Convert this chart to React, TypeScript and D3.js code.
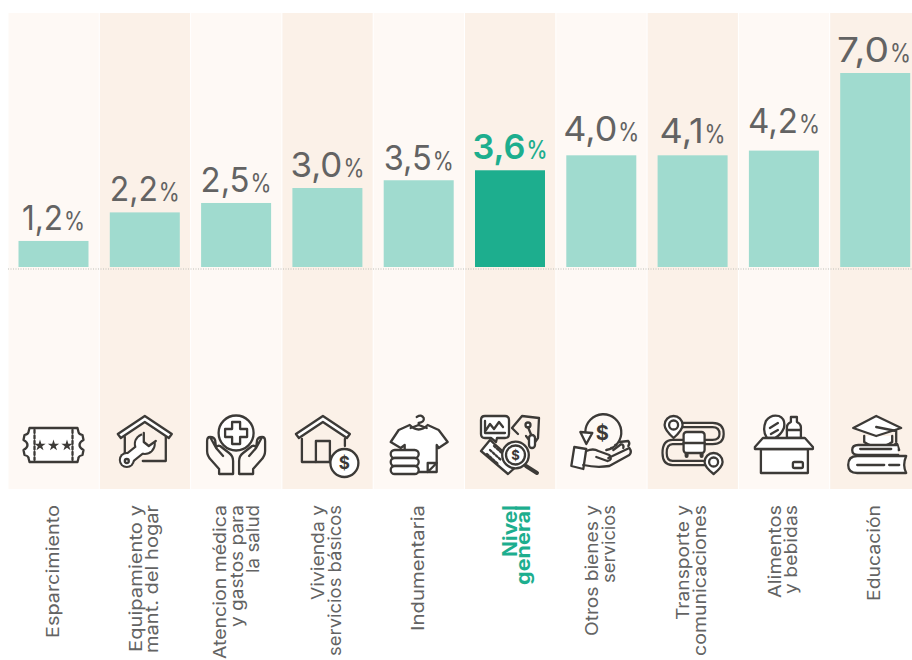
import React from "react";
import * as d3 from "d3";

const categories = ["Esparcimiento","Equipamiento y mant. del hogar","Atencion médica y gastos para la salud","Vivienda y servicios básicos","Indumentaria","Nivel general","Otros bienes y servicios","Transporte y comunicaciones","Alimentos y bebidas","Educación"];
const categoryLines = [["Esparcimiento"],["Equipamiento y","mant. del hogar"],["Atencion médica","y gastos para","la salud"],["Vivienda y","servicios básicos"],["Indumentaria"],["Nivel","general"],["Otros bienes y","servicios"],["Transporte y","comunicaciones"],["Alimentos","y bebidas"],["Educación"]];
const valueLabels = ["1,2","2,2","2,5","3,0","3,5","3,6","4,0","4,1","4,2","7,0"];
// heights as drawn in the picture (the source's bars are not strictly proportional to their labels)
const drawnValues = [0.94,1.97,2.31,2.85,3.13,3.49,4.03,4.03,4.2,7.0];
const highlighted = "Nivel general";

const W = 912, H = 660;
const INK = "#3c3a37";
const BG1 = "#fef9f5", BG2 = "#fbf1e8";
const x = d3.scaleBand<string>().domain(categories).range([8.5, 921.5]).paddingInner(0).paddingOuter(0);
const y = d3.scaleLinear().domain([0, 7]).range([267, 73]);
const star = d3.symbol().type(d3.symbolStar).size(40)() as string;

// text fitting: the reference's face is wider than any installed one
const lineWidths = [[133],[147,148],[154,122,68],[95,151],[126],[52,80],[131,78],[115,151],[93,89],[96]];
const valueWidths = [63,70,71,74,70,75,76,66,72,74];
const labelGap = [10.5,11.5,11,11,10.5,11,14.5,12.5,18,11];
const LINE = 16.5, LINE_HI = 13.5, PCT = 21;

const Ic = ({ children }: any) => (
  <g fill="#fff" stroke={INK} strokeWidth={2.3} strokeLinejoin="round" strokeLinecap="round">{children}</g>
);
const Roof = () => (<path d="M-27,-11 L0,-29 L27,-11 L24,-7 L0,-23 L-24,-7 L-27,-11Z" />);

const icons = [
  () => (<Ic>
    <path d="M-24,-17 H24 L25,-13 Q25,-11 29,-10 L30,-5 Q26,-3 26,0 Q26,3 30,5 L29,10 Q25,11 25,13 L24,17 H-24 L-25,13 Q-25,11 -29,10 L-30,5 Q-26,3 -26,0 Q-26,-3 -30,-5 L-29,-10 Q-25,-11 -25,-13Z" />
    <path d="M-19,-15 V15 M19,-15 V15" strokeDasharray="3 2.5" fill="none" />
    {[-13.5,0,13.5].map(d => <path key={d} d={star} transform={`translate(${d},0.5)`} fill={INK} stroke="none" />)}
  </Ic>),
  () => (<Ic>
    <path d="M-20,-8 V8 M21,-8 V16 H-2" fill="none" />
    <Roof />
    <path d="M-18,15 L2,-1" stroke={INK} strokeWidth={12} fill="none" />
    <circle cx={-18} cy={15} r={8} fill={INK} stroke="none" />
    <circle cx={0} cy={-1} r={11} fill={INK} stroke="none" />
    <path d="M-18,15 L2,-1" stroke="#fff" strokeWidth={8} fill="none" />
    <circle cx={-18} cy={15} r={6} stroke="none" />
    <circle cx={0} cy={-1} r={9} stroke="none" />
    <path d="M-3,-12 L-1,-3 L4,1 L12,-5 L13,-12 L8,-16Z" fill={BG2} stroke="none" />
    <path d="M-1,-12 L-1,-3 L4,1 L11,-4" fill="none" />
    <circle cx={-18} cy={16} r={2} fill="none" />
  </Ic>),
  () => (<Ic>
    <circle cx={0} cy={-12} r={17.5} />
    <path d="M-4,-23 H4 V-16 H11 V-8 H4 V-1 H-4 V-8 H-11 V-16 H-4Z" />
    {[1,-1].map(s => <g key={s} transform={`scale(${s},1)`}>
      <path d="M-26,-8 Q-29,-8 -29,-4 V6 Q-29,11 -25,15 L-17,24 V29 H-3 V16 Q-3,11 -7,8 L-16,1 Q-19,0 -20,3 L-13,11 M-20,3 L-21,-5 Q-22,-8 -26,-8Z" fill="none" />
    </g>)}
  </Ic>),
  () => (<Ic>
    <g transform="translate(-4.5,0)">
      <path d="M-21,-6 V17 H10 M22,-6 V1" fill="none" />
      <Roof />
      <path d="M-7,17 V-4 H7 V17" fill="none" />
    </g>
    <circle cx={17} cy={18} r={14} />
    <text x={17} y={24} textAnchor="middle" fontFamily="Inter" fontWeight={700} fontSize={17} fill={INK} stroke="none">$</text>
  </Ic>),
  () => (<Ic>
    <path d="M0,-20 V-22 Q6,-23 5,-27 Q3,-31 -2,-28 M-20,-15 L-9,-20 Q0,-11 9,-20 L20,-15 L29,-3 L20,3 L18,0 V27 H-14 V0 L-18,3 L-28,-3Z" />
    <path d="M-8,-17 L0,-20 L8,-17" fill="none" />
    <path d="M9,27 L18,18 H9 V27" fill="#fff" />
    <rect x={-28} y={5} width={28} height={8} rx={4} />
    <rect x={-28} y={13} width={28} height={8} rx={4} />
    <rect x={-28} y={21} width={28} height={8} rx={4} />
  </Ic>),
  () => (<Ic>
    <path d="M-25,-29 H-5 Q-1,-29 -1,-25 V-11 Q-1,-7 -5,-7 H-13 L-14,-3 L-19,-7 H-25 Q-29,-7 -29,-11 V-25 Q-29,-29 -25,-29Z" />
    <path d="M-25,-24 V-12 H-5 M-24,-15 L-20,-21 L-16,-16 L-11,-23 L-7,-18" fill="none" />
    <path d="M2,-17 L12,-29 L29,-27 L28,-7 L23,0 L16,-9 M2,-17 L8,-11" fill="none" />
    <circle cx={18} cy={-20} r={2.5} />
    <path d="M18,-18 L22,-8" fill="none" />
    <rect x={19} y={-10} width={6} height={13} rx={3} />
    <path d="M-29,6 L-20,-5 L8,20 L-2,29 Z" />
    <path d="M-20,5 L-9,15 M-23,9 L-12,19 M-16,1 L-6,10" fill="none" strokeDasharray="2 2" />
    <path d="M16,21 L27,28" strokeWidth={4} fill="none" />
    <circle cx={5.5} cy={10} r={13.3} />
    <circle cx={5.5} cy={10} r={9.5} />
    <text x={5.5} y={15} textAnchor="middle" fontFamily="Inter" fontWeight={700} fontSize={13} fill={INK} stroke="none">$</text>
  </Ic>),
  () => (<Ic>
    <path d="M-16,-13 A18,18 0 1 1 5,5" fill="none" />
    <path d="M10,3 h1 M14,0 h1" fill="none" />
    <path d="M-21,-13 L-9,-12 L-15,-1 Z" />
    <text x={1} y={-5} textAnchor="middle" fontFamily="Inter" fontWeight={700} fontSize={20} fill={INK} stroke="none">$</text>
    <path d="M-15,4 L-27,2 L-30,21 L-18,24 Z" />
    <path d="M-15,6 Q-8,3 -3,6 L8,10 Q12,15 6,16 L-5,12 M7,13 L28,3 Q31,7 28,10 L8,21 Q-5,23 -18,20" fill="none" />
    <path d="M12,5 L20,-1 Q23,0 22,3 M18,-3 L27,-4 Q29,-2 27,1" fill="none" />
  </Ic>),
  () => (<Ic>
    <g fill="none">
      <path d="M-11,-20 H20 Q29,-20 29,-11 Q29,-3 20,-3 H-20 Q-28,-3 -28,8 Q-28,18 -20,18 H13" strokeWidth={6.4} />
      <path d="M-11,-20 H20 Q29,-20 29,-11 Q29,-3 20,-3 H-20 Q-28,-3 -28,8 Q-28,18 -20,18 H13" stroke={BG2} strokeWidth={2} />
    </g>
    <path d="M-28,-20 A9,9 0 1 1 -10,-20 Q-10,-15 -19,-7 Q-28,-15 -28,-20Z" />
    <circle cx={-19} cy={-20} r={4.5} />
    <rect x={-9} y={-13} width={21} height={21} rx={3} />
    <path d="M-9,-2 H12 M-2,-2 H4" fill="none" />
    <path d="M-6,9 V11 M9,9 V11" fill="none" strokeWidth={4} />
    <path d="M12,17 A9,9 0 1 1 30,17 Q30,22 21,29 Q12,22 12,17Z" />
    <circle cx={21} cy={17} r={4.5} />
  </Ic>),
  () => (<Ic>
    <path d="M-17,-7 Q-22,-14 -18,-24 Q-13,-31 -5,-29 Q2,-26 0,-17 Q-3,-10 -9,-7Z" />
    <path d="M-14,-17 L-6,-22 M-13,-11 L-6,-15" fill="none" />
    <path d="M3,-7 V-18 Q3,-21 7,-23 V-28 H13 V-23 Q17,-21 17,-18 V-7Z" />
    <path d="M3,-15 H17" fill="none" />
    <path d="M-23,4 V28 H24 V4 Z" />
    <path d="M-21,-7 H21 L29,2 V4 H-29 V2Z" />
    <rect x={9} y={17} width={10} height={6} rx={1.5} />
  </Ic>),
  () => (<Ic>
    <path d="M-11,-9 V-3 Q3,7 17,-3 V-9" />
    <path d="M1,-29 L26,-17 L1,-9 L-22,-17Z" />
    <path d="M1,-18 L21,-14 V-3" fill="none" />
    <path d="M20,-1 L18,5 H24 L22,-1Z" />
    <path d="M22,0 H-17 Q-23,0 -23,5 Q-23,10 -17,10 H23" />
    <path d="M-15,4 H16" fill="none" />
    <path d="M31,11 H-18 Q-27,11 -27,20 Q-27,28 -18,28 H31 Q27,20 31,11Z" />
    <path d="M-18,20 H9 M14,20 H24" fill="none" />
  </Ic>),
];

export default function App() {
  const bw = x.bandwidth();
  const fs = { fontFamily: "Inter, sans-serif" };
  return (
    <svg width={W} height={H} viewBox={`0 0 ${W} ${H}`} style={{ position: "absolute", left: 0, top: 0, display: "block" }}>
      <rect width={W} height={H} fill="#fff" />
      {categories.map((c, i) => (
        <rect key={c} x={x(c)!} y={13} width={bw - 1} height={476} fill={i % 2 ? BG2 : BG1} />
      ))}
      <line x1={8} x2={W} y1={269} y2={269} stroke="#bdbdb6" strokeWidth={1} strokeDasharray="1 1.5" />
      {categories.map((c, i) => {
        const left = x(c)!;
        const cx = left + 45;
        const hi = c === highlighted;
        const col = hi ? "#1dae8e" : "#636363";
        const Icon = icons[i];
        const lines = categoryLines[i];
        const step = hi ? LINE_HI : LINE;
        const lx = cx + 5 - ((lines.length - 1) / 2) * step + (lines.length === 3 ? 1.5 : 0) + (hi ? 8.5 : 0);
        const vw = valueWidths[i];
        const vx = Math.min(cx - vw / 2, W - 1 - vw);
        const vy = y(drawnValues[i]) - labelGap[i];
        return (
          <g key={c}>
            <rect x={left + 10} y={y(drawnValues[i])} width={70} height={267 - y(drawnValues[i])} fill={hi ? "#1dae8e" : "#a0dbcf"} />
            <text x={vx} y={vy} fill={col} style={fs} fontSize={34.5} fontWeight={hi ? 600 : 400} textLength={vw - PCT - 1} lengthAdjust="spacingAndGlyphs">{valueLabels[i]}</text>
            <text x={vx + vw - PCT} y={vy} fill={col} style={fs} fontSize={25} fontWeight={hi ? 500 : 400} textLength={PCT} lengthAdjust="spacingAndGlyphs">%</text>
            <g transform={`translate(${cx},445)`}><Icon /></g>
            {lines.map((t, k) => (
              <text key={k} transform={`translate(${lx + k * step},505) rotate(-90)`} textAnchor="end" fill={col} style={fs} fontSize={hi ? 19.5 : 17.5} fontWeight={hi ? 700 : 400} textLength={lineWidths[i][k]} lengthAdjust="spacingAndGlyphs">{t}</text>
            ))}
          </g>
        );
      })}
    </svg>
  );
}
